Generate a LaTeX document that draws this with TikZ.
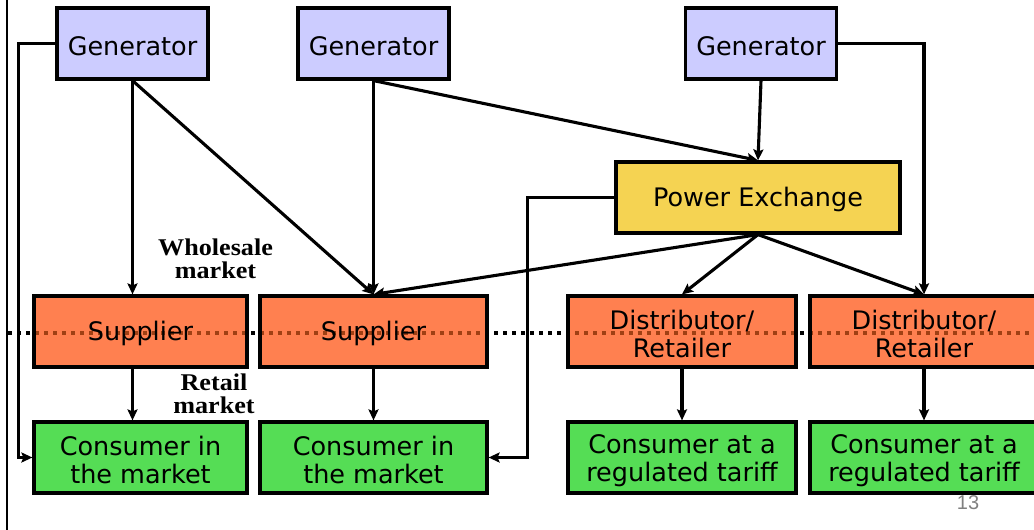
\documentclass[tikz,border=0pt]{standalone}
\usepackage{fontspec}
\setmainfont{DejaVu Sans}
\newfontfamily\labelserif{Liberation Serif}
\newfontfamily\pagenumfont{Liberation Sans}
\usetikzlibrary{arrows.meta,calc}

\definecolor{genblue}{RGB}{204,204,255}
\definecolor{pxyellow}{RGB}{245,211,82}
\definecolor{suporange}{RGB}{255,128,80}
\definecolor{consgreen}{RGB}{85,221,85}
\definecolor{dotbrown}{RGB}{160,64,20}
\definecolor{pagegray}{RGB}{128,128,128}

% horizontally widened bold serif label lines
\newcommand{\wideline}[1]{\scalebox{1.09}[1]{#1}}
% taller first line so two-line box texts sit a little lower
\newcommand{\toplift}{\rule{0pt}{25pt}}

\begin{document}
\begin{tikzpicture}[x=1pt,y=-1pt,
  box/.style={draw=black, line width=3.2pt, inner sep=0pt, minimum height=71pt,
    align=center, font=\fontsize{25.5}{28}\selectfont},
  oneline/.style={text height=24pt},
  gen/.style={box, oneline, fill=genblue, minimum width=151pt},
  exch/.style={box, oneline, fill=pxyellow, minimum width=284pt},
  dotline/.style={line width=4.5pt, dash pattern=on 4pt off 5pt},
  midrow/.style={box, fill=suporange,
    path picture={\draw[dotline, line width=3.2pt, draw=dotbrown] (dotL) -- (dotR);}},
  consumer/.style={box, fill=consgreen},
  conn/.style={line width=3.1pt, -{Stealth[length=11pt,width=10pt,inset=2pt]}},
  marketlabel/.style={align=center, inner sep=0pt,
    font=\fontsize{24}{22.5}\selectfont\labelserif\bfseries},
]
\useasboundingbox (0,0) rectangle (1034,530);
\clip (0,0) rectangle (1034,530);

% slide frame edge
\draw[line width=2.4pt] (7,0) -- (7,530);

% market boundary line
\coordinate (dotL) at (8,333);
\coordinate (dotR) at (1040,333);
\draw[dotline] (dotL) -- (dotR);

% generators and exchange
\node[gen] (g1) at (132.5,43.5) {Generator};
\node[gen] (g2) at (373.5,43.5) {Generator};
\node[gen] (g3) at (761,43.5) {Generator};
\node[exch] (px) at (758,197.5) {Power Exchange};

% suppliers and distributors
\node[midrow, oneline, minimum width=213pt] (s1) at (140.5,331.5) {Supplier};
\node[midrow, oneline, minimum width=227pt] (s2) at (373.5,331.5) {Supplier};
\node[midrow, minimum width=228pt] (d1) at (682,331.5) {\toplift Distributor/\\Retailer};
\node[midrow, minimum width=228pt] (d2) at (924,331.5) {\toplift Distributor/\\Retailer};

% consumers
\node[consumer, minimum width=213pt] (c1) at (140.5,457.5) {\toplift Consumer in\\the market};
\node[consumer, minimum width=227pt] (c2) at (373.5,457.5) {\toplift Consumer in\\the market};
\node[consumer, minimum width=228pt] (c3) at (682,457.5) {\toplift Consumer at a\\regulated tariff};
\node[consumer, minimum width=228pt] (c4) at (924,457.5) {\toplift Consumer at a\\regulated tariff};

% market labels
\node[marketlabel] (wm) at (215.5,259) {\wideline{Wholesale}\\\wideline{market}};
\node[marketlabel] (rm) at (214,394) {\wideline{Retail}\\\wideline{market}};

% page number
\node[font=\fontsize{20}{22}\selectfont\pagenumfont, text=pagegray, inner sep=0pt] (pn) at (968,503) {13};

% connectors
\draw[conn] (g1.west) -- ++(-37,0) |- (c1.west);
\draw[conn] (g1.south) -- (g1.south |- s1.north);
\draw[conn] (g1.south) -- (s2.north);
\draw[conn] (g2.south) -- (s2.north);
\draw[conn] (g2.south) -- (px.north);
\draw[conn] (g3.south) -- (px.north);
\draw[conn] (g3.east) -| (d2.north);
\draw[conn] (px.south) -- (s2.north);
\draw[conn] (px.south) -- (d1.north);
\draw[conn] (px.south) -- (d2.north);
\draw[conn] (px.west) -- ++(-87,0) |- (c2.east);
\draw[conn] (g1.south |- s1.south) -- (g1.south |- c1.north);
\draw[conn] (s2.south) -- (c2.north);
\draw[conn] (d1.south) -- (c3.north);
\draw[conn] (d2.south) -- (c4.north);
\end{tikzpicture}
\end{document}
